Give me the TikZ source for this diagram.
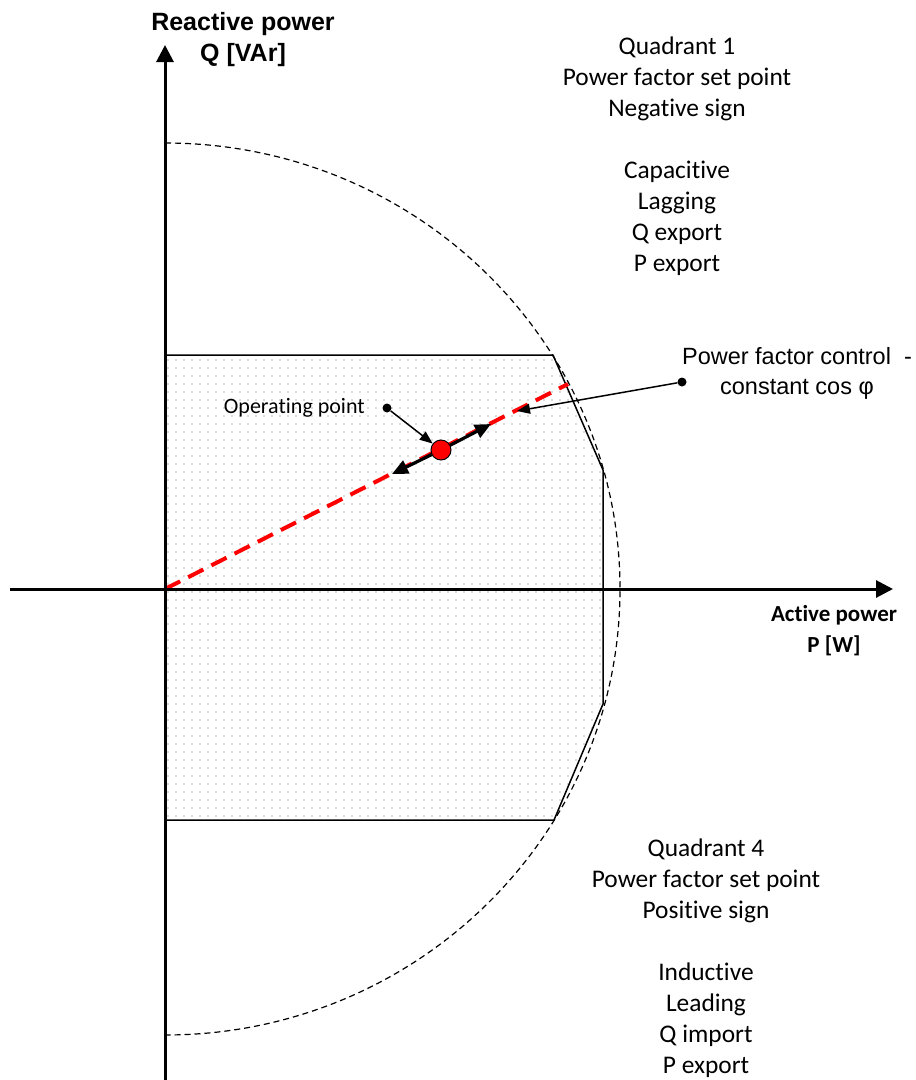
\documentclass[tikz,border=0pt]{standalone}
\usepackage{fontspec}
\setmainfont{Carlito}[Ligatures=NoCommon]
\newfontfamily\arialfont{Liberation Sans}
\usepackage{tikz}
\usetikzlibrary{arrows.meta,positioning,calc,patterns.meta}
\definecolor{PointRed}{HTML}{FF0000}
\definecolor{DotGray}{HTML}{B8B8B8}

\tikzdeclarepattern{
  name=griddots,
  type=uncolored,
  bounding box={(-4pt,-4pt) and (4pt,4pt)},
  tile size={(8pt,8pt)},
  code={\fill (0pt,0pt) circle (0.9pt);}
}

\begin{document}
\begin{tikzpicture}[x=1pt,y=-1pt,
axis/.style={line width=3pt,-{Triangle[length=17pt,width=17pt]}},
region/.style={pattern=griddots,pattern color=DotGray},
rim/.style={dashed,line width=1.2pt,dash pattern=on 6pt off 4pt},
pfline/.style={PointRed,line width=4pt,dash pattern=on 17pt off 9pt},
move/.style={line width=3.2pt,-{Triangle[length=16pt,width=14pt]}},
pointer/.style={line width=1.5pt,-{Triangle[length=13pt,width=10pt]}},
dot/.style={circle,fill=black,inner sep=0pt,minimum size=9pt},
quad/.style={align=center,font=\fontsize{25.4}{31}\selectfont},
axlabel/.style={align=center,font=\fontsize{23}{31}\selectfont\bfseries}]
\useasboundingbox (0,0) rectangle (916,1080);
\coordinate (o) at (165,589);
% operating region
\coordinate (r1) at (165,355);
\coordinate (r2) at (553,355);
\coordinate (r3) at (603,470);
\coordinate (r4) at (603,704);
\coordinate (r5) at (554,820);
\coordinate (r6) at (165,820);
\fill[region] (r1)--(r2)--(r3)--(r4)--(r5)--(r6)--cycle;
\draw[line width=1.5pt] (r1)--(r2)--(r3)--(r4)--(r5)--(r6);
\draw[rim] (165,143) arc[start angle=90,end angle=-90,x radius=455pt,y radius=446pt];
% constant cos phi line
\coordinate (pf) at (568,384);
\draw[pfline] (o)--(pf);
% axes
\draw[axis] (10,589)--(893,589);
\draw[axis] (165,1080)--(165,45);
\node[axlabel,font=\fontsize{25}{31}\selectfont\bfseries\arialfont] (ql) at (243,40) {Reactive power\\Q [VAr]};
\node[axlabel] (pl) at (834,631) {Active power\\P [W]};
% operating point
\coordinate (up) at (491,424);
\coordinate (down) at (392,474);
\node[circle,draw,line width=1pt,fill=PointRed,minimum size=20pt,inner sep=0pt] (op) at (441,450) {};
\draw[move] (op)--(up);
\draw[move] (op)--(down);
\node[dot] (opd) at (387,408) {};
\node[font=\fontsize{22}{26}\selectfont,left=14pt of opd] (opl) {Operating point};
\draw[pointer] (opd)--(op);
% power factor control
\node[dot] (pfd) at (682,382) {};
\coordinate (pft) at (517,411);
\draw[pointer] (pfd)--(pft);
\node[align=center,font=\fontsize{23.5}{30}\selectfont\arialfont] (pfl) at (797,373) {Power factor control\ \ -\\constant cos φ};
% quadrant texts
\node[quad] (q1) at (677,156) {Quadrant 1\\Power factor set point\\Negative sign\\[31pt]Capacitive\\Lagging\\Q export\\P export};
\node[quad] (q4) at (706,958) {Quadrant 4\\Power factor set point\\Positive sign\\[31pt]Inductive\\Leading\\Q import\\P export};
\end{tikzpicture}
\end{document}
